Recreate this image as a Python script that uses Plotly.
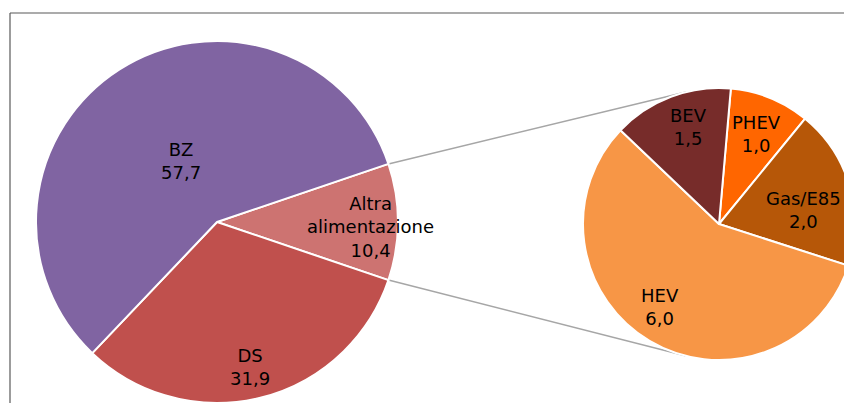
import math
import plotly.graph_objects as go

# Fuel-type shares (%), main breakdown
main_labels = ["Altra alimentazione", "DS", "BZ"]
main_values = [10.4, 31.9, 57.7]

# Breakdown of "Altra alimentazione"
sub_labels = ["PHEV", "Gas/E85", "HEV", "BEV"]
sub_values = [1.0, 2.0, 6.0, 1.5]

main_colors = ["#CD7371", "#C0504D", "#8064A2"]
sub_colors = ["#FF6600", "#B65708", "#F79646", "#772C2A"]

W, H = 860, 403
FONT = dict(family="DejaVu Sans", size=18, color="#000000")

# pie geometry in pixels: centre and radius
MAIN = dict(cx=217, cy=222, r=181)
SUB = dict(cx=719, cy=224, r=136)

main_total = sum(main_values)
main_rotation = 90 - main_values[0] / main_total * 360 / 2
sub_rotation = 5

# label placement per slice: (radial fraction, angular nudge in degrees)
main_label_pos = [(0.85, 2), (0.82, 1), (0.39, 2)]
sub_label_pos = [(0.72, 0.6), (0.63, 7), (0.75, 4.5), (0.75, 3.6)]


def domain(p):
    return dict(
        x=[(p["cx"] - p["r"]) / W, (p["cx"] + p["r"]) / W],
        y=[(H - p["cy"] - p["r"]) / H, (H - p["cy"] + p["r"]) / H],
    )


def fmt(v):
    return f"{v:.1f}".replace(".", ",")


def label_annotations(p, labels, values, rotation, positions):
    total = sum(values)
    ann = []
    start = rotation
    for lab, val, (frac, nudge) in zip(labels, values, positions):
        span = val / total * 360
        mid = math.radians(start + span / 2 + nudge)
        x = p["cx"] + frac * p["r"] * math.sin(mid)
        y = p["cy"] - frac * p["r"] * math.cos(mid)
        ann.append(dict(
            x=x / W, y=1 - y / H, xref="paper", yref="paper",
            text=lab.replace(" ", "<br>") + "<br>" + fmt(val),
            showarrow=False, xanchor="center", yanchor="middle",
            font=FONT, align="center",
        ))
        start += span
    return ann


def tangent_point(px, py, c, upper):
    dx, dy = c["cx"] - px, c["cy"] - py
    d = math.hypot(dx, dy)
    base = math.atan2(dy, dx)
    half = math.asin(c["r"] / d)
    ang = base - half if upper else base + half
    length = math.sqrt(d * d - c["r"] ** 2)
    return px + length * math.cos(ang), py + length * math.sin(ang)


fig = go.Figure()
fig.add_trace(go.Pie(
    labels=main_labels, values=main_values, sort=False, direction="clockwise",
    rotation=main_rotation, domain=domain(MAIN), textinfo="none",
    marker=dict(colors=main_colors, line=dict(color="#FFFFFF", width=2)),
    hoverinfo="label+value", showlegend=False,
))
fig.add_trace(go.Pie(
    labels=sub_labels, values=sub_values, sort=False, direction="clockwise",
    rotation=sub_rotation, domain=domain(SUB), textinfo="none",
    marker=dict(colors=sub_colors, line=dict(color="#FFFFFF", width=2)),
    hoverinfo="label+value", showlegend=False,
))

# connector lines from the edges of the "Altra" slice to the second pie
shapes = []
half_ang = main_values[0] / main_total * math.pi
for upper in (True, False):
    sgn = -1 if upper else 1
    x0 = MAIN["cx"] + MAIN["r"] * math.cos(half_ang)
    y0 = MAIN["cy"] + sgn * MAIN["r"] * math.sin(half_ang)
    x1, y1 = tangent_point(x0, y0, SUB, upper)
    shapes.append(dict(
        type="line", xref="paper", yref="paper",
        x0=x0 / W, y0=1 - y0 / H, x1=x1 / W, y1=1 - y1 / H,
        line=dict(color="#A6A6A6", width=1.5), layer="below",
    ))

# chart-area frame (top and left edges)
frame = dict(color="#595959", width=1.2)
shapes.append(dict(type="line", xref="paper", yref="paper",
                   x0=10 / W, y0=1 - 13 / H, x1=1, y1=1 - 13 / H, line=frame))
shapes.append(dict(type="line", xref="paper", yref="paper",
                   x0=10 / W, y0=1 - 13 / H, x1=10 / W, y1=0, line=frame))

annotations = (
    label_annotations(MAIN, main_labels, main_values, main_rotation, main_label_pos)
    + label_annotations(SUB, sub_labels, sub_values, sub_rotation, sub_label_pos)
)

fig.update_layout(
    width=W, height=H,
    margin=dict(l=0, r=0, t=0, b=0),
    paper_bgcolor="#FFFFFF", plot_bgcolor="#FFFFFF",
    shapes=shapes, annotations=annotations,
    font=FONT,
)

fig.write_html(
    "out.html",
    post_script="document.body.style.overflow='hidden';"
                "document.documentElement.style.overflow='hidden';",
)
